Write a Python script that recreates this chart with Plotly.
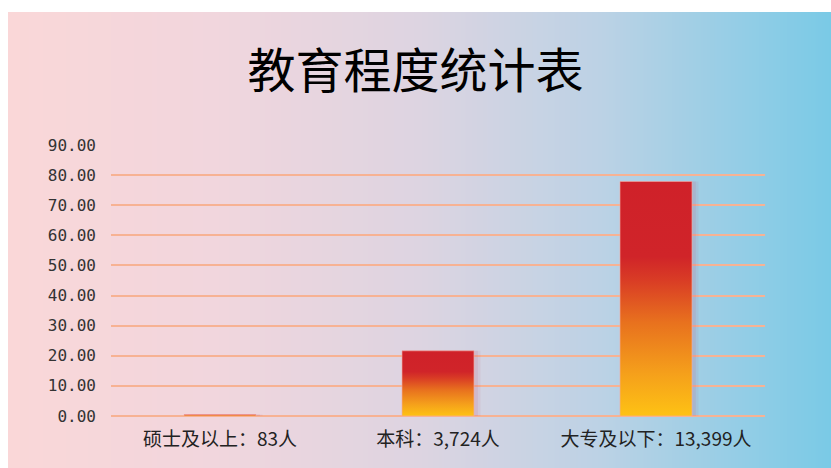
import base64
import struct
import zlib

import plotly.graph_objects as go

# ---------------- data ----------------
title_text = "教育程度统计表"
categories = ["硕士及以上：83人", "本科：3,724人", "大专及以下：13,399人"]
percent = [0.48, 21.64, 77.87]
y_ticks = [0, 10, 20, 30, 40, 50, 60, 70, 80, 90]

# ---------------- layout constants ----------------
W, H = 831, 468
ML, MR, MT, MB = 111, 66, 145, 52
BAR_W = 0.33
BG_LEFT, BG_TOP = 8, 12  # white strip at left / top of the picture


def png_gradient(stops, width):
    """1-pixel-high horizontal gradient PNG as data URI."""
    def lerp(a, b, t):
        return int(round(a + (b - a) * t))

    row = bytearray([0])
    for i in range(width):
        t = i / (width - 1)
        for k in range(len(stops) - 1):
            p0, c0 = stops[k]
            p1, c1 = stops[k + 1]
            if p0 <= t <= p1:
                u = (t - p0) / (p1 - p0) if p1 > p0 else 0
                row += bytes(lerp(c0[j], c1[j], u) for j in range(3))
                break
    raw = bytes(row)

    def chunk(tag, data):
        c = struct.pack(">I", len(data)) + tag + data
        return c + struct.pack(">I", zlib.crc32(tag + data) & 0xFFFFFFFF)

    png = b"\x89PNG\r\n\x1a\n"
    png += chunk(b"IHDR", struct.pack(">IIBBBBB", width, 1, 8, 2, 0, 0, 0))
    png += chunk(b"IDAT", zlib.compress(raw, 9))
    png += chunk(b"IEND", b"")
    return "data:image/png;base64," + base64.b64encode(png).decode()


bg_stops = [
    (0.0, (250, 215, 216)),
    (0.25, (241, 214, 221)),
    (0.5, (221, 212, 225)),
    (0.72, (188, 210, 229)),
    (1.0, (122, 202, 230)),
]
bg_uri = png_gradient(bg_stops, W - BG_LEFT)

bar_scale = [
    [0.0, "#FEC214"],
    [0.18, "#F5A01B"],
    [0.4, "#E8711E"],
    [0.58, "#D93C25"],
    [0.68, "#D02429"],
    [1.0, "#CF2129"],
]

fig = go.Figure()

x_idx = list(range(len(categories)))

# soft shadow behind the bars (two faint layers)
for off, alpha in [(0.03, 0.10), (0.018, 0.14)]:
    fig.add_trace(
        go.Bar(
            x=x_idx,
            y=percent,
            width=BAR_W,
            offset=-BAR_W / 2 + off,
            marker=dict(color=f"rgba(200,100,130,{alpha})", line=dict(width=0)),
            hoverinfo="skip",
            showlegend=False,
        )
    )

# gradient-filled bars
for i, v in zip(x_idx, percent):
    fig.add_trace(
        go.Scatter(
            x=[i - BAR_W / 2, i + BAR_W / 2, i + BAR_W / 2, i - BAR_W / 2, i - BAR_W / 2],
            y=[0, 0, v, v, 0],
            mode="lines",
            fill="toself",
            fillgradient=dict(type="vertical", colorscale=bar_scale),
            line=dict(color="rgba(246,170,160,0.6)", width=1),
            name=categories[i],
            text=f"{v:.2f}",
            hoverinfo="name+text",
            showlegend=False,
        )
    )

pw = W - ML - MR
ph = H - MT - MB

fig.update_layout(
    width=W,
    height=H,
    barmode="overlay",
    margin=dict(l=ML, r=MR, t=MT, b=MB, pad=0),
    paper_bgcolor="white",
    plot_bgcolor="rgba(0,0,0,0)",
    showlegend=False,
    title=dict(
        text=title_text,
        x=0.5,
        xref="container",
        y=1 - 71.5 / H,
        yref="container",
        xanchor="center",
        yanchor="middle",
        font=dict(family="Noto Sans CJK SC", size=48, color="#000000"),
    ),
    images=[
        dict(
            source=bg_uri,
            xref="paper",
            yref="paper",
            x=(BG_LEFT - ML) / pw,
            y=(H - MB - BG_TOP) / ph,
            sizex=(W - BG_LEFT) / pw,
            sizey=(H - BG_TOP) / ph,
            xanchor="left",
            yanchor="top",
            sizing="stretch",
            layer="below",
        )
    ],
    xaxis=dict(
        range=[-0.5, len(categories) - 0.5],
        tickmode="array",
        tickvals=x_idx,
        ticktext=categories,
        showgrid=False,
        zeroline=False,
        showline=False,
        ticks="",
        ticklabelstandoff=10,
        tickfont=dict(family="Noto Sans CJK SC", size=19, color="#222222"),
        fixedrange=True,
    ),
    yaxis=dict(
        range=[0, 90],
        tickmode="array",
        tickvals=y_ticks,
        ticktext=[f"{t:.2f}" for t in y_ticks],
        showgrid=True,
        gridcolor="#F7B293",
        gridwidth=1.5,
        zeroline=True,
        zerolinecolor="#F7B293",
        zerolinewidth=1.5,
        showline=False,
        ticks="",
        ticklabelstandoff=14,
        tickfont=dict(family="DejaVu Sans Mono", size=16, color="#333333"),
        fixedrange=True,
    ),
)

fig.write_html(
    "out.html",
    config={"displayModeBar": False},
    post_script="document.body.style.margin='0';document.body.style.overflow='hidden';",
)
